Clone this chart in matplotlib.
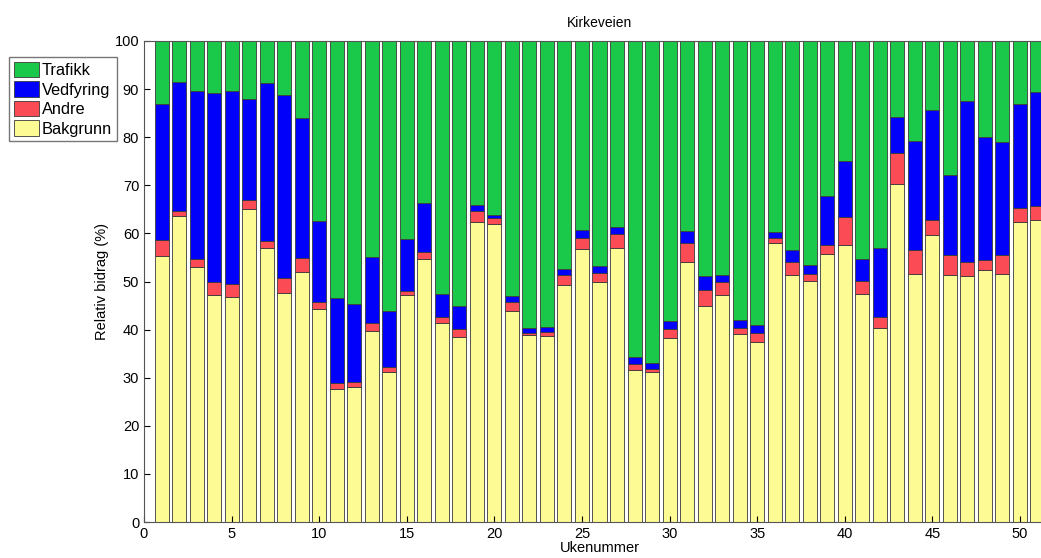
import numpy as np
import matplotlib
matplotlib.use('Agg')
import matplotlib.pyplot as plt

plt.rcParams['font.family'] = ['Liberation Sans', 'DejaVu Sans']

uker = list(range(1, 52))

bakgrunn = [55.4, 63.6, 53.1, 47.1, 46.8, 65.0, 56.9, 47.7, 52.0, 44.2,
            27.7, 28.0, 39.8, 31.2, 47.1, 54.6, 41.4, 38.5, 62.4, 61.9,
            43.9, 38.8, 38.7, 49.3, 56.7, 49.8, 56.9, 31.7, 31.2, 38.3,
            54.0, 45.0, 47.1, 39.0, 37.4, 58.0, 51.4, 50.1, 55.8, 57.5,
            47.5, 40.4, 70.3, 51.5, 59.7, 51.4, 51.2, 52.3, 51.6, 62.4, 62.8]
andre = [3.2, 1.1, 1.6, 2.7, 2.7, 2.0, 1.5, 3.0, 2.9, 1.6,
         1.1, 1.2, 1.5, 1.0, 0.9, 1.5, 1.2, 1.6, 2.3, 1.2,
         1.9, 0.5, 0.9, 2.1, 2.3, 1.9, 3.0, 1.2, 0.7, 1.8,
         4.1, 3.2, 2.7, 1.4, 1.9, 1.0, 2.6, 1.5, 1.7, 5.9,
         2.7, 2.2, 6.5, 5.0, 3.1, 4.1, 2.8, 2.1, 4.0, 2.9, 2.8]
vedfyring = [28.4, 26.8, 35.0, 39.3, 40.2, 21.0, 32.9, 38.1, 29.0, 16.7,
             17.8, 16.1, 13.8, 11.7, 10.8, 10.2, 4.8, 4.9, 1.3, 0.7,
             1.1, 1.0, 0.9, 1.3, 1.7, 1.5, 1.5, 1.5, 1.2, 1.6,
             2.3, 3.0, 1.6, 1.6, 1.7, 1.2, 2.5, 1.8, 10.3, 11.7,
             4.5, 14.4, 7.5, 22.8, 22.9, 16.6, 33.5, 25.6, 23.3, 21.5, 23.9]
trafikk = [13.0, 8.5, 10.3, 10.9, 10.3, 12.0, 8.7, 11.2, 16.1, 37.5,
           53.4, 54.7, 44.9, 56.1, 41.2, 33.7, 52.6, 55.0, 34.0, 36.2,
           53.1, 59.7, 59.5, 47.3, 39.3, 46.8, 38.6, 65.6, 66.9, 58.3,
           39.6, 48.8, 48.6, 58.0, 59.0, 39.8, 43.5, 46.6, 32.2, 24.9,
           45.3, 43.0, 15.7, 20.7, 14.3, 27.9, 12.5, 20.0, 21.1, 13.2, 10.5]

farger = {'Bakgrunn': '#fdfb94', 'Andre': '#fb4b55',
          'Vedfyring': '#0000fb', 'Trafikk': '#1bc94a'}

fig = plt.figure(figsize=(10.41, 5.58), dpi=100)
ax = fig.add_axes([144/1041, 1 - 522/558, 911/1041, 481/558])

bunn = np.zeros(len(uker))
handles = {}
for navn, verdier in [('Bakgrunn', bakgrunn), ('Andre', andre),
                      ('Vedfyring', vedfyring), ('Trafikk', trafikk)]:
    h = ax.bar(uker, verdier, width=0.8, bottom=bunn, color=farger[navn],
               edgecolor='#3a3a3a', linewidth=0.6, label=navn)
    handles[navn] = h
    bunn = bunn + np.array(verdier)

ax.set_xlim(0, 52)
ax.set_ylim(0, 100)
ax.set_xticks(range(0, 51, 5))
ax.set_yticks(range(0, 101, 10))
ax.tick_params(direction='in', labelsize=10.5, length=4, top=False, right=False)
for s in ax.spines.values():
    s.set_color('#555555')
ax.set_title('Kirkeveien', fontsize=10, pad=10)
ax.set_xlabel('Ukenummer', fontsize=10.5, labelpad=0)
ax.set_ylabel('Relativ bidrag (%)', fontsize=10.5, labelpad=4)

orden = ['Trafikk', 'Vedfyring', 'Andre', 'Bakgrunn']
fig.legend([handles[n] for n in orden], orden, loc='upper left',
           bbox_to_anchor=(9/1041, 1 - 57/558), fontsize=11.8, frameon=True,
           fancybox=False, edgecolor='#555555', handlelength=1.55,
           handleheight=1.05, handletextpad=0.15, labelspacing=0.2,
           borderpad=0.3, borderaxespad=0)

fig.savefig('out.png', dpi=100)
